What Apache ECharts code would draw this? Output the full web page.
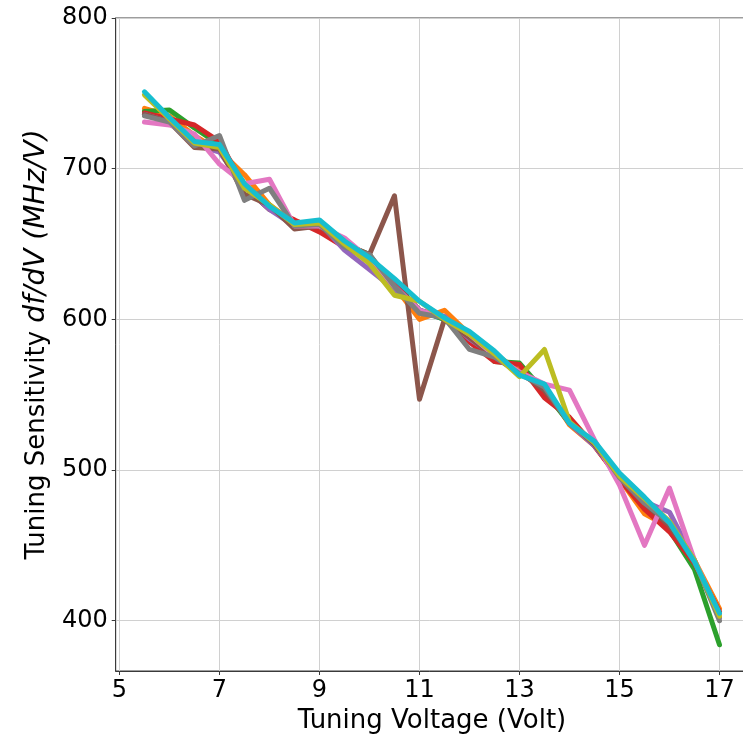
<!DOCTYPE html>
<html>
<head>
<meta charset="utf-8">
<script src="https://cdn.jsdelivr.net/npm/echarts@6/dist/echarts.min.js"></script>
<style>html,body{margin:0;padding:0;background:#fff}#c{width:743px;height:736px}</style>
</head>
<body>
<div id="c"></div>
<script>
const voltages = [5.5,6,6.5,7,7.5,8,8.5,9,9.5,10,10.5,11,11.5,12,12.5,13,13.5,14,14.5,15,15.5,16,16.5,17];
const xTicks = [5,7,9,11,13,15,17];
const yTicks = [400,500,600,700,800];
const s0 = [736,732,720,714,690,674,664,662,650,640,624,606,600,586,576,566,553,532,518,496,478,462,438,404];
const s1 = [740,735,722,712,696,676,664,662,650,639,622,600,606,590,577,566,556,530,516,494,471,462,440,408];
const s2 = [738,739,727,716,688,673,665,662,650,643,620,606,600,588,572,571,552,531,517,494,476,460,434,384];
const s3 = [737,733,729,718,688,673,666,658,648,640,623,606,601,585,572,570,548,535,516,494,474,459,438,406];
const s4 = [736,731,716,711,688,673,662,664,646,633,620,606,602,587,576,564,555,531,516,495,479,472,440,402];
const s5 = [736,731,714,713,683,676,660,662,650,643,682,547,600,588,575,565,553,532,517,495,478,463,439,403];
const s6 = [731,729,723,703,690,693,662,662,654,640,622,606,601,590,576,565,557,553,520,490,450,488,440,404];
const s7 = [735,731,715,722,679,687,662,663,648,643,622,604,601,580,575,564,555,531,518,495,478,465,440,400];
const s8 = [749,733,717,714,687,676,663,664,650,637,616,612,600,590,577,562,580,532,518,496,481,466,440,403];
const s9 = [751,734,718,716,690,675,664,666,652,641,627,612,601,592,579,563,557,531,519,498,482,465,439,405];
const allSeries = [s0,s1,s2,s3,s4,s5,s6,s7,s8,s9];
const colors = ['#1f77b4','#ff7f0e','#2ca02c','#d62728','#9467bd','#8c564b','#e377c2','#7f7f7f','#bcbd22','#17becf'];

const chart = echarts.init(document.getElementById('c'), null, {renderer:'canvas'});
const font = 'DejaVu Sans';
chart.setOption({
  animation: false,
  backgroundColor: '#fff',
  grid: {left: 115.7, top: 18, right: -5.25, bottom: 65, containLabel: false, outerBoundsMode: 'none', show: true, borderColor: '#3a3a3a', borderWidth: 1, backgroundColor: 'transparent'},
  xAxis: {
    type: 'value', min: 4.925, max: 17.575,
    name: 'Tuning Voltage (Volt)', nameLocation: 'middle', nameGap: 35,
    nameTextStyle: {fontFamily: font, fontSize: 26, color: '#000'},
    axisLine: {show: true, lineStyle: {color: '#3a3a3a', width: 1}},
    axisTick: {show: true, customValues: xTicks, length: 4, lineStyle: {color: '#3a3a3a'}},
    axisLabel: {customValues: xTicks, margin: 8, fontFamily: font, fontSize: 24, color: '#000'},
    splitLine: {show: true, lineStyle: {color: '#d0d0d0', width: 1}}
  },
  yAxis: {
    type: 'value', min: 366.6, max: 800,
    name: '{n|Tuning Sensitivity }{i|df/dV (MHz/V)}', nameLocation: 'middle', nameGap: 62, nameRotate: 90,
    nameTextStyle: {fontFamily: font, fontSize: 26, color: '#000', rich: {n: {fontFamily: font, fontSize: 26, color: '#000'}, i: {fontFamily: font, fontSize: 28, fontStyle: 'italic', color: '#000'}}},
    axisLine: {show: true, lineStyle: {color: '#3a3a3a', width: 1}},
    axisTick: {show: true, customValues: yTicks, length: 4, lineStyle: {color: '#3a3a3a'}},
    axisLabel: {customValues: yTicks, margin: 8, fontFamily: font, fontSize: 24, color: '#000'},
    splitLine: {show: true, lineStyle: {color: '#d0d0d0', width: 1}}
  },
  series: allSeries.map((vals, k) => ({
    type: 'line',
    data: voltages.map((v, i) => [v, vals[i]]),
    showSymbol: false,
    symbol: 'none',
    lineStyle: {color: colors[k], width: 5, join: 'round', cap: 'round'},
    itemStyle: {color: colors[k]},
    z: 2 + k,
    clip: false
  }))
});
</script>
</body>
</html>
